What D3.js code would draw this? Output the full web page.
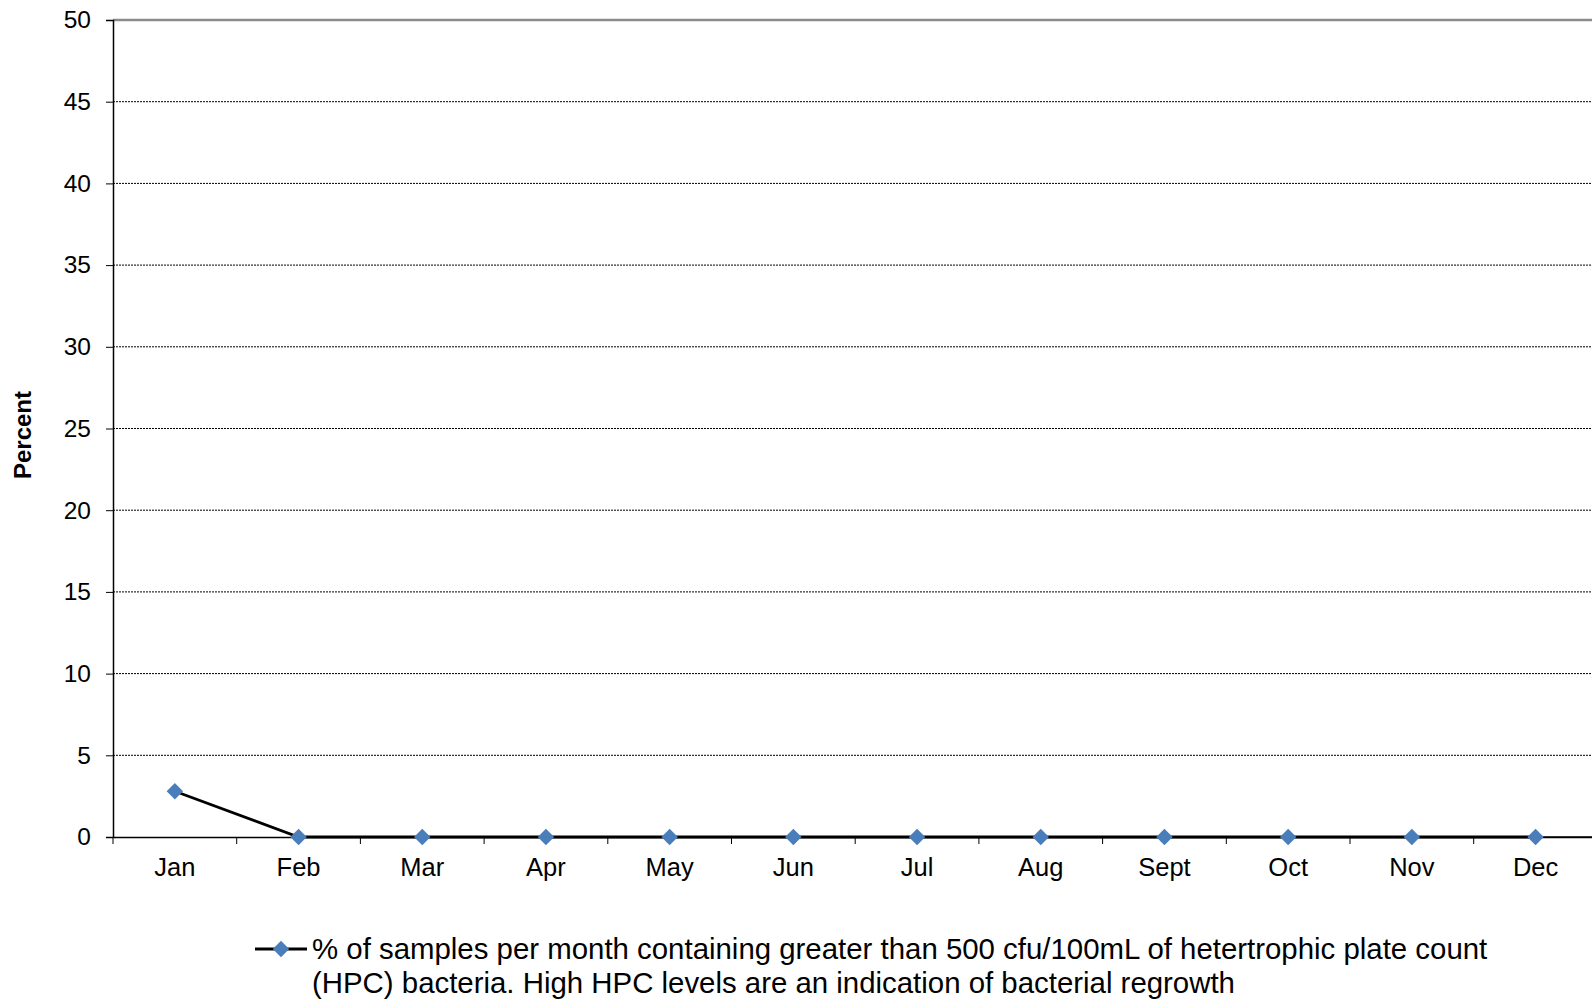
<!DOCTYPE html>
<html><head><meta charset="utf-8">
<script src="https://cdn.jsdelivr.net/npm/d3@7"></script>
<style>body{margin:0;background:#fff}svg{display:block}text{font-family:"Liberation Sans",Arial,sans-serif}</style>
</head><body>
<svg id="c" width="1592" height="1000"></svg>
<script>
const months = ["Jan","Feb","Mar","Apr","May","Jun","Jul","Aug","Sept","Oct","Nov","Dec"];
const values = [2.8,0,0,0,0,0,0,0,0,0,0,0];
const yTicks = [0,5,10,15,20,25,30,35,40,45,50];
const legendLines = ["% of samples per month containing greater than 500 cfu/100mL of hetertrophic plate count","(HPC) bacteria. High HPC levels are an indication of bacterial regrowth"];

const svg = d3.select("#c");
const L = 113, T = 20, B = 837, R = 113 + 12*123.7;
const x = d3.scaleBand().domain(months).range([L, R]);
const y = d3.scaleLinear().domain([0,50]).range([B, T]);

// gridlines
svg.append("g").selectAll("line").data(yTicks.filter(d=>d>0 && d<50)).join("line")
  .attr("x1", L).attr("x2", 1592).attr("y1", d=>y(d)).attr("y2", d=>y(d))
  .attr("stroke","#000").attr("stroke-width",1).attr("stroke-dasharray","2,1");
// top border
svg.append("line").attr("x1",L).attr("x2",1592).attr("y1",y(50)).attr("y2",y(50))
  .attr("stroke","#8a8a8a").attr("stroke-width",2.5);

// y axis
const ya = svg.append("g").attr("transform",`translate(${L},0)`)
  .call(d3.axisLeft(y).tickValues(yTicks).tickSize(7).tickPadding(15));
ya.select(".domain").attr("stroke","#000").attr("stroke-width",1.5);
ya.selectAll(".tick line").attr("stroke","#000");
ya.selectAll("text").attr("font-size",24.5).attr("fill","#000");

// x axis
const xa = svg.append("g").attr("transform",`translate(0,${B})`)
  .call(d3.axisBottom(x).tickSize(0).tickPadding(21));
xa.select(".domain").attr("stroke","#000").attr("stroke-width",1.5);
xa.selectAll("text").attr("font-size",25.5).attr("fill","#000");
// x ticks at band boundaries
svg.append("g").selectAll("line").data(months).join("line")
  .attr("x1",d=>x(d)).attr("x2",d=>x(d)).attr("y1",B).attr("y2",B+7)
  .attr("stroke","#000").attr("stroke-width",1);

// y label
svg.append("text").attr("transform",`translate(31,${435}) rotate(-90)`)
  .attr("text-anchor","middle").attr("font-size",24).attr("font-weight","bold").text("Percent");

// line
const cx = d => x(d) + x.bandwidth()/2;
svg.append("path").datum(months.map((m,i)=>[cx(m), y(values[i])]))
  .attr("d", d3.line()).attr("fill","none").attr("stroke","#000").attr("stroke-width",2.8);
svg.append("line").attr("x1",cx("Dec")).attr("x2",1592).attr("y1",B).attr("y2",B)
  .attr("stroke","#000").attr("stroke-width",1.5);

svg.append("g").selectAll("path").data(months).join("path")
  .attr("d", d3.symbol().type(d3.symbolSquare).size(135))
  .attr("transform",(m,i)=>`translate(${cx(m)},${y(values[i])}) rotate(45)`)
  .attr("fill","#4a7ebb");

// legend
const ly = 949;
svg.append("line").attr("x1",255).attr("x2",307).attr("y1",ly).attr("y2",ly).attr("stroke","#000").attr("stroke-width",2.8);
svg.append("path").attr("d", d3.symbol().type(d3.symbolSquare).size(135)).attr("transform",`translate(281,${ly}) rotate(45)`).attr("fill","#4a7ebb");
svg.append("g").selectAll("text").data(legendLines).join("text")
  .attr("x",312).attr("y",(d,i)=>959+i*34).attr("font-size",29.4).attr("fill","#000").text(d=>d);
</script>
</body></html>
